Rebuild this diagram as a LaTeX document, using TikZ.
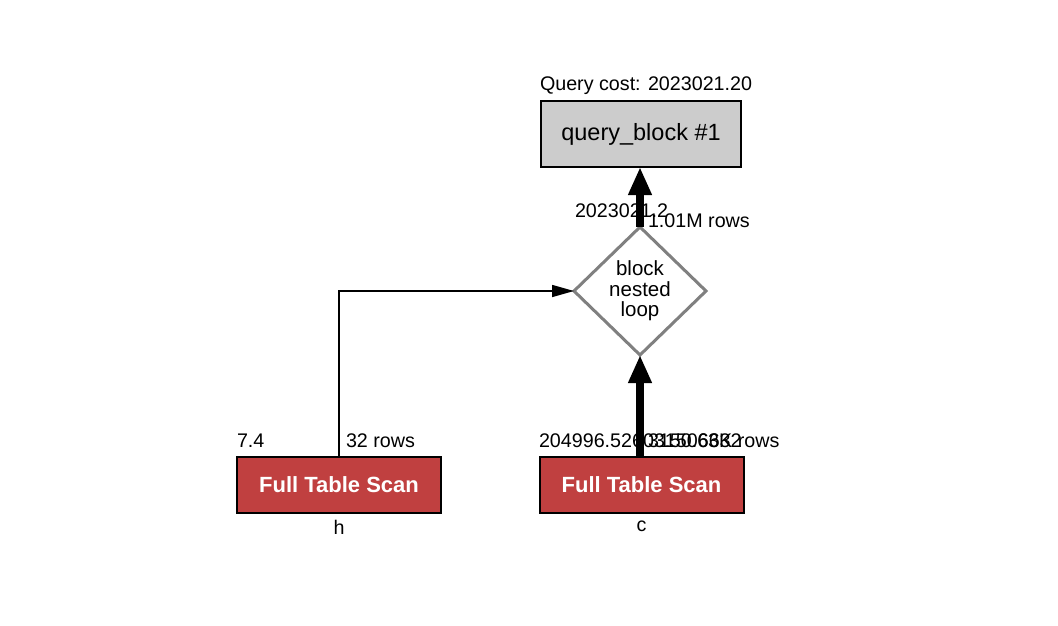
\documentclass[tikz,border=0pt]{standalone}
\usepackage{fontspec}
\setmainfont{Liberation Sans}
\usetikzlibrary{shapes.geometric,arrows.meta}
\definecolor{scanred}{RGB}{192,64,64}
\definecolor{blockgray}{RGB}{204,204,204}
\definecolor{loopgray}{RGB}{128,128,128}
\begin{document}
\begin{tikzpicture}[x=1pt,y=-1pt,
  every node/.style={outer sep=0pt, inner sep=0pt},
  lbl/.style={anchor=base west, font=\fontsize{19.7}{21}\selectfont},
  scanbox/.style={draw=black, line width=2pt, fill=scanred, text=white,
    minimum width=204pt, minimum height=56pt, font=\fontsize{22}{24}\selectfont\bfseries},
  thin flow/.style={line width=1.5pt, -{Triangle[length=22pt,width=12pt]}},
  thick flow/.style={line width=8pt, -{Triangle[length=28pt,width=22pt]}}]
\useasboundingbox (0,0) rectangle (1058,626);

\node[draw=black, line width=2pt, fill=blockgray, minimum width=200pt, minimum height=66pt,
  font=\fontsize{23.5}{26}\selectfont] (qb) at (641,134) {query\_block \#1};
\node[lbl] (qcost) at (540,90) {Query cost: 2023021.20};

\node[diamond, draw=loopgray, line width=3pt, fill=white, minimum width=132pt, minimum height=128pt,
  align=center, font=\fontsize{20.5}{20.5}\selectfont] (bnl) at (640,291) {block\\nested\\loop};

\node[scanbox] (scanh) at (339,485) {Full Table Scan};
\node[scanbox] (scanc) at (641.5,485) {Full Table Scan};
\node[lbl, anchor=base] (tblh) at (339,534) {h};
\node[lbl, anchor=base] (tblc) at (641.5,531) {c};

\node[lbl] (costh) at (237,447) {7.4};
\node[lbl] (rowsh) at (346,447) {32 rows};
\node[lbl] (costc) at (539,447) {204996.526031506632};
\node[lbl] (rowsc) at (648,447) {3150.63K rows};
\node[lbl] (costbnl) at (575,217) {2023021.2};
\node[lbl] (rowsbnl) at (648,227) {1.01M rows};

\draw[thin flow] (scanh.north) |- (bnl.west);
\draw[thick flow] (scanc.north -| bnl.south) -- (bnl.south);
\draw[thick flow] (bnl.north) -- (qb.south -| bnl.north);
\end{tikzpicture}
\end{document}
